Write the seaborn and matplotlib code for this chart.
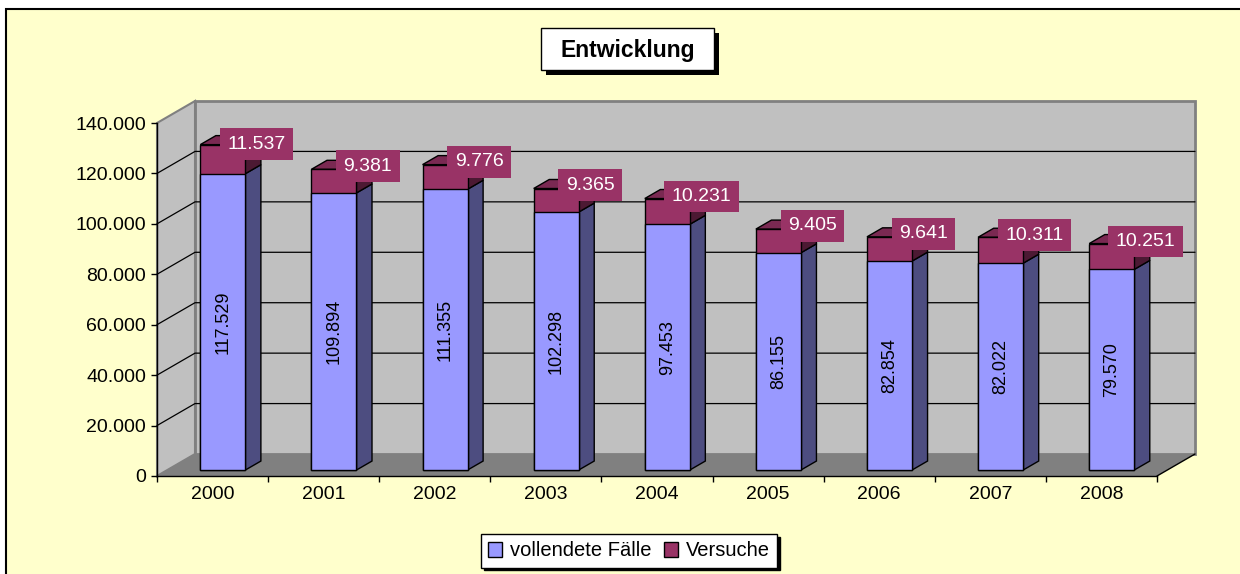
import matplotlib
matplotlib.use("Agg")
import matplotlib.pyplot as plt
import seaborn as sns
import numpy as np
from matplotlib.patches import Polygon, Rectangle, Patch

# data
years = ["2000", "2001", "2002", "2003", "2004", "2005", "2006", "2007", "2008"]
vollendet = [117529, 109894, 111355, 102298, 97453, 86155, 82854, 82022, 79570]
versuche = [11537, 9381, 9776, 9365, 10231, 9405, 9641, 10311, 10251]
y_ticks = [0, 20000, 40000, 60000, 80000, 100000, 120000, 140000]

def de_num(v):
    return f"{v:,.0f}".replace(",", ".")

BLUE, BLUE_SIDE = "#9999FF", "#4D4D80"
RED, RED_SIDE, RED_TOP = "#993366", "#4C1933", "#7A2952"
WALL, FLOOR, EDGE = "#C0C0C0", "#808080", "#808080"

sns.set_style("white")
plt.rcParams['font.family'] = ['Liberation Sans', 'DejaVu Sans']

W, H = 1240, 574
fig = plt.figure(figsize=(W / 100, H / 100), dpi=100, facecolor="white")

# yellow chart area with black top/left frame
fig.patches.append(Rectangle((6 / W, -0.01), 1.0, 1 - 9 / H + 0.01, transform=fig.transFigure,
                             facecolor="#FFFFCC", edgecolor="black", lw=1.5, zorder=-1))

ax = fig.add_axes([157 / W, 98 / H, 1000 / W, 353 / H])
ax.set_facecolor("none")

totals = [a + b for a, b in zip(vollendet, versuche)]
BW = 0.405
sns.barplot(x=years, y=totals, color=RED, saturation=1, width=BW, errorbar=None,
            edgecolor="black", linewidth=1, ax=ax, zorder=3)
sns.barplot(x=years, y=vollendet, color=BLUE, saturation=1, width=BW, errorbar=None,
            edgecolor="black", linewidth=1, ax=ax, zorder=3)

ax.set_xlim(-0.5, 8.5)
ax.set_ylim(0, 140000)
ax.set_xlabel("")
ax.set_ylabel("")

# depth vector (38 px right, 22 px up) in data units
p0 = ax.transData.transform((0, 0))
p1 = ax.transData.transform((1, 1))
ddx = 38 / (p1[0] - p0[0])
ddy = 22 / (p1[1] - p0[1])
f1, f2 = 0.27, 0.68
x0, x1, ytop = -0.5, 8.5, 140000

# walls and floor
ax.add_patch(Polygon([(x0 + ddx, ddy), (x1 + ddx, ddy), (x1 + ddx, ytop + ddy), (x0 + ddx, ytop + ddy)],
                     closed=True, facecolor=WALL, edgecolor=EDGE, lw=2, zorder=0.5, clip_on=False))
ax.add_patch(Polygon([(x0, 0), (x0, ytop), (x0 + ddx, ytop + ddy), (x0 + ddx, ddy)],
                     closed=True, facecolor=WALL, edgecolor=EDGE, lw=1.5, zorder=0.5, clip_on=False))
ax.add_patch(Polygon([(x0, 0), (x1, 0), (x1 + ddx, ddy), (x0 + ddx, ddy)],
                     closed=True, facecolor=FLOOR, edgecolor="none", zorder=0.6, clip_on=False))
ax.plot([x1, x1 + ddx], [0, ddy], color="black", lw=1, clip_on=False, zorder=0.7)
for v in y_ticks[1:-1]:
    ax.plot([x0, x0 + ddx, x1 + ddx], [v, v + ddy, v + ddy], color="black", lw=0.9,
            clip_on=False, zorder=0.7)

# bars: shift front faces into depth, add sides and tops
n = len(years)
red_p = [p for p in ax.patches if p.get_facecolor()[:3] == matplotlib.colors.to_rgb(RED)]
blue_p = [p for p in ax.patches if p.get_facecolor()[:3] == matplotlib.colors.to_rgb(BLUE)]
sx, sy = (f2 - f1) * ddx, (f2 - f1) * ddy
for p in red_p + blue_p:
    p.set_x(p.get_x() + f1 * ddx)
    p.set_y(p.get_y() + f1 * ddy)
    p.set_zorder(3)

for i in range(n):
    bp = blue_p[i]
    xl = bp.get_x()
    xr = xl + bp.get_width()
    yb = bp.get_y()
    ym = yb + vollendet[i]
    yt = yb + totals[i]
    for (a, b, c) in [(yb, ym, BLUE_SIDE), (ym, yt, RED_SIDE)]:
        ax.add_patch(Polygon([(xr, a), (xr, b), (xr + sx, b + sy), (xr + sx, a + sy)], closed=True,
                             facecolor=c, edgecolor="black", lw=1, zorder=2, clip_on=False))
    ax.add_patch(Polygon([(xl, yt), (xr, yt), (xr + sx, yt + sy), (xl + sx, yt + sy)], closed=True,
                         facecolor=RED_TOP, edgecolor="black", lw=1, zorder=2, clip_on=False))
    xc = (xl + xr) / 2
    ax.text(xc, (yb + ym) / 2, de_num(vollendet[i]), rotation=90, ha="center", va="center",
            fontsize=13, color="black", zorder=4)
    ax.annotate(de_num(versuche[i]), (xc, (ym + yt) / 2), xytext=(34, 15),
                textcoords="offset pixels", ha="center", va="center", fontsize=14,
                color="white", zorder=6, annotation_clip=False,
                bbox=dict(boxstyle="square,pad=0.38", facecolor=RED, edgecolor="none"))

# axes styling
for s in ["top", "right"]:
    ax.spines[s].set_visible(False)
for s in ["left", "bottom"]:
    ax.spines[s].set_color("black")
    ax.spines[s].set_linewidth(1)
    ax.spines[s].set_zorder(2.5)
ax.set_yticks(y_ticks)
ax.set_yticklabels([de_num(v) for v in y_ticks])
ax.tick_params(axis="y", direction="out", length=4, width=1, color="black", pad=4, labelsize=14,
               labelcolor="black", left=True)
ax.set_xticks(range(n))
ax.set_xticklabels(years)
ax.set_xticks(np.arange(-0.5, n, 1.0), minor=True)
ax.tick_params(axis="x", which="major", length=0, pad=7, labelsize=14, labelcolor="black")
ax.tick_params(axis="x", which="minor", direction="out", length=4, width=1, color="black", bottom=True)

# title box with shadow
fig.patches.append(Rectangle((546 / W, 1 - 75 / H), 173 / W, 42 / H, transform=fig.transFigure,
                             facecolor="black", edgecolor="none", zorder=5))
fig.patches.append(Rectangle((541 / W, 1 - 70 / H), 173 / W, 42 / H, transform=fig.transFigure,
                             facecolor="white", edgecolor="black", lw=1, zorder=6))
fig.text(628 / W, 1 - 50 / H, "Entwicklung", ha="center", va="center", fontsize=16.5,
         fontweight="bold", color="black", zorder=7)

# legend
handles = [Patch(facecolor=BLUE, edgecolor="black", lw=1), Patch(facecolor=RED, edgecolor="black", lw=1)]
leg = fig.legend(handles, ["vollendete Fälle", "Versuche"], loc="center", ncol=2,
                 bbox_to_anchor=(629 / W, 1 - 551 / H), fontsize=14.5, frameon=True, fancybox=False,
                 edgecolor="black", framealpha=1, handlelength=0.7, handleheight=0.7,
                 handletextpad=0.4, columnspacing=0.6, borderpad=0.35,
                 shadow={"color": "black", "alpha": 1})
leg.get_frame().set_linewidth(1)
for t in leg.get_texts():
    t.set_color("black")

fig.savefig("out.png", dpi=100, facecolor="white")
